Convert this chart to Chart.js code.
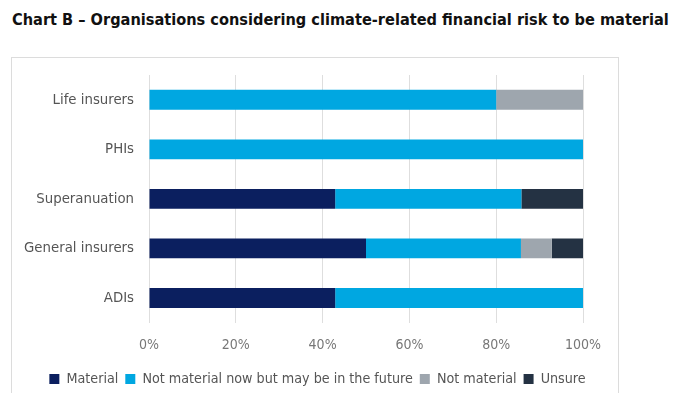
<!DOCTYPE html>
<html>
<head>
<meta charset="utf-8">
<script src="https://cdn.jsdelivr.net/npm/chart.js@4/dist/chart.umd.min.js"></script>
<style>
  html, body { margin: 0; padding: 0; background: #fff; }
  body { width: 686px; height: 393px; position: relative; overflow: hidden; }
  #title {
    position: absolute; left: 12px; top: 10px;
    font-family: "DejaVu Sans Condensed", "DejaVu Sans", sans-serif;
    font-weight: bold; font-size: 16.2px; color: #111; white-space: nowrap;
  }
  #frame {
    position: absolute; left: 11px; top: 57px; width: 606px; height: 360px;
    border: 1px solid #dcdcdc;
  }
  #wrap { position: absolute; left: 12px; top: 58px; width: 605px; height: 357px; }
</style>
</head>
<body>
<div id="title">Chart B – Organisations considering climate-related financial risk to be material</div>
<div id="frame"></div>
<div id="wrap"><canvas id="chart"></canvas></div>
<script>
// categories and shares (%)
const categories = ['Life insurers', 'PHIs', 'Superanuation', 'General insurers', 'ADIs'];
const material = [0, 0, 42.9, 50, 42.9];
const notNowMaybeFuture = [80, 100, 42.9, 35.7, 57.1];
const notMaterial = [20, 0, 0, 7.1, 0];
const unsure = [0, 0, 14.2, 7.2, 0];
const xTicks = [0, 20, 40, 60, 80, 100];

const font = "'DejaVu Sans Condensed', 'DejaVu Sans', sans-serif";

// legend sits centred under the whole frame, not under the padded area
const legendNudge = {
    id: 'legendNudge',
    afterLayout(chart) {
        chart.legend.left += 20;
        chart.legend.right += 20;
    }
};

new Chart(document.getElementById('chart'), {
    type: 'bar',
    data: {
        labels: categories,
        datasets: [
            { label: 'Material', data: material, backgroundColor: '#0b1f5f' },
            { label: 'Not material now but may be in the future', data: notNowMaybeFuture, backgroundColor: '#00a7e1' },
            { label: 'Not material', data: notMaterial, backgroundColor: '#9ea6ae' },
            { label: 'Unsure', data: unsure, backgroundColor: '#243243' }
        ]
    },
    plugins: [legendNudge],
    options: {
        indexAxis: 'y',
        responsive: true,
        maintainAspectRatio: false,
        animation: false,
        datasets: { bar: { categoryPercentage: 1, barPercentage: 0.4 } },
        layout: { autoPadding: false, padding: { top: 17, right: 34, left: 0, bottom: 19 } },
        scales: {
            x: {
                stacked: true,
                min: 0,
                max: 100,
                afterBuildTicks: scale => { scale.ticks = xTicks.map(v => ({ value: v })); },
                afterFit: scale => { scale.height = 42; },
                grid: { color: '#dedede', drawTicks: false },
                border: { display: false },
                ticks: {
                    padding: 14,
                    color: '#777',
                    font: { family: font, size: 14 },
                    callback: v => v + '%'
                }
            },
            y: {
                stacked: true,
                afterFit: scale => {
                    scale.width = 137;
                    scale.paddingTop = 0;
                    scale.paddingBottom = 0;
                },
                grid: { display: false, drawTicks: false },
                border: { display: true, color: '#dedede' },
                ticks: {
                    padding: 15,
                    color: '#555',
                    font: { family: font, size: 14.8 }
                }
            }
        },
        plugins: {
            legend: {
                position: 'bottom',
                labels: {
                    boxWidth: 10,
                    boxHeight: 10,
                    padding: 7,
                    color: '#555',
                    font: { family: font, size: 14.2 }
                }
            },
            tooltip: { enabled: false }
        }
    }
});
</script>
</body>
</html>
